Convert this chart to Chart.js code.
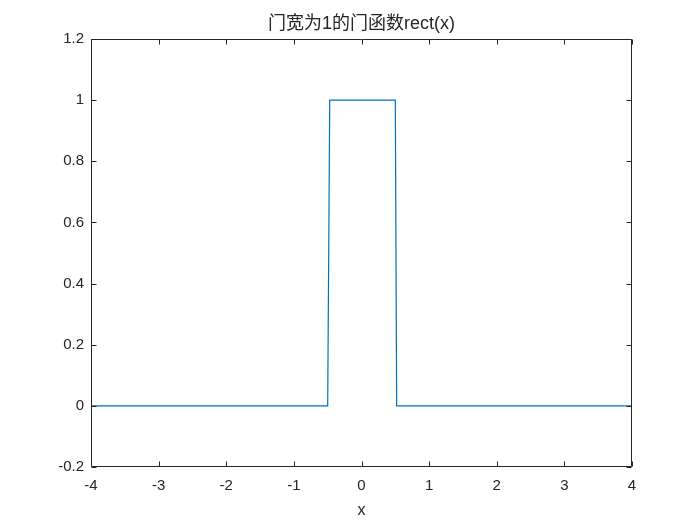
<!DOCTYPE html>
<html>
<head>
<meta charset="utf-8">
<script src="https://cdn.jsdelivr.net/npm/chart.js@4/dist/chart.umd.min.js"></script>
<style>
html,body{margin:0;padding:0;background:#fff;}
#wrap{width:700px;height:525px;}
</style>
</head>
<body>
<div id="wrap"><canvas id="c" width="700" height="525"></canvas></div>
<script>
const titleText = '门宽为1的门函数rect(x)';
const xLabel = 'x';
const xValues = [-4, -0.5, -0.47, 0.5, 0.52, 4];
const yValues = [0, 0, 1, 1, 0, 0];
const xTicks = [-4, -3, -2, -1, 0, 1, 2, 3, 4];
const yTicks = [-0.2, 0, 0.2, 0.4, 0.6, 0.8, 1, 1.2];
const yTickLabels = ['-0.2', '0', '0.2', '0.4', '0.6', '0.8', '1', '1.2'];

const axisColor = '#262626';
const tickFont = {family: '"Liberation Sans", Arial, sans-serif', size: 15};

const boxPlugin = {
  id: 'boxTicks',
  afterDatasetsDraw(chart) {
    const ctx = chart.ctx;
    const a = chart.chartArea;
    const xs = chart.scales.x, ys = chart.scales.y;
    const L = Math.round(a.left) + 0.5, R = Math.round(a.right) - 0.5;
    const T = Math.round(a.top) + 0.5, B = Math.round(a.bottom) - 0.5;
    const len = 5;
    ctx.save();
    ctx.strokeStyle = axisColor;
    ctx.lineWidth = 1;
    ctx.beginPath();
    ctx.rect(L, T, R - L, B - T);
    xTicks.forEach(v => {
      const px = Math.round(xs.getPixelForValue(v)) + 0.5;
      ctx.moveTo(px, B); ctx.lineTo(px, B - len);
      ctx.moveTo(px, T); ctx.lineTo(px, T + len);
    });
    yTicks.forEach(v => {
      const py = Math.round(ys.getPixelForValue(v)) + 0.5;
      ctx.moveTo(L, py); ctx.lineTo(L + len, py);
      ctx.moveTo(R, py); ctx.lineTo(R - len, py);
    });
    ctx.stroke();
    ctx.restore();
  }
};

new Chart(document.getElementById('c'), {
  type: 'line',
  data: {
    datasets: [{
      data: xValues.map((x, i) => ({x: x, y: yValues[i]})),
      borderColor: '#0072BD',
      borderWidth: 1.2,
      pointRadius: 0,
      tension: 0,
      fill: false
    }]
  },
  options: {
    responsive: false,
    animation: false,
    layout: {padding: {left: 0, right: 68, top: 0, bottom: 0}},
    plugins: {
      legend: {display: false},
      tooltip: {enabled: false},
      title: {
        display: true,
        text: titleText,
        fullSize: false,
        color: '#262626',
        font: {family: '"Liberation Sans", "Noto Sans CJK SC", sans-serif', size: 18, weight: 'normal', lineHeight: 1.2},
        padding: {top: 13, bottom: 4.4}
      }
    },
    scales: {
      x: {
        type: 'linear',
        min: -4, max: 4,
        afterBuildTicks: s => { s.ticks = xTicks.map(v => ({value: v})); },
        afterFit: s => { s.height = 58; },
        grid: {display: false, drawTicks: false},
        border: {display: false},
        ticks: {color: axisColor, font: tickFont, padding: 10, maxRotation: 0, autoSkip: false,
                callback: v => String(v)},
        title: {display: true, text: xLabel, color: axisColor,
                font: {family: '"Liberation Sans", Arial, sans-serif', size: 16},
                padding: {top: 0, bottom: 5}}
      },
      y: {
        type: 'linear',
        min: -0.2, max: 1.2,
        afterBuildTicks: s => { s.ticks = yTicks.map(v => ({value: v})); },
        afterFit: s => { s.width = 91; },
        grid: {display: false, drawTicks: false},
        border: {display: false},
        ticks: {color: axisColor, font: tickFont, padding: 7, autoSkip: false,
                callback: (v, i) => yTickLabels[i]}
      }
    }
  },
  plugins: [boxPlugin]
});
</script>
</body>
</html>
